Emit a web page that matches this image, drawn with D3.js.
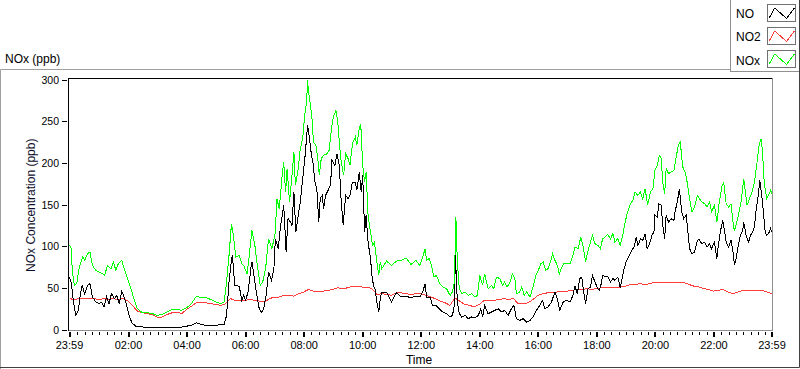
<!DOCTYPE html>
<html>

<head>
    <meta charset="UTF-8">
    <title>NOx (ppb)</title>
    <script src="https://d3js.org/d3.v7.min.js"></script>
    <style>
        body { margin: 0; background: #fff; }
        svg { display: block; font-family: "Liberation Sans", Arial, sans-serif; }
    </style>
</head>

<body>
    <svg id="chart"></svg>
    <script>
        // -------------data (one reading every 10 minutes, from 23:59)-------------
        var timeTicks = ["23:59", "02:00", "04:00", "06:00", "08:00", "10:00", "12:00",
            "14:00", "16:00", "18:00", "20:00", "22:00", "23:59"];
        var yTicks = [0, 50, 100, 150, 200, 250, 300];
        var seriesNames = ["NO", "NO2", "NOx"];
        var seriesColors = ["#000000", "#ff3c3c", "#00ff00"];

        var noValues = [
            62, 26, 40, 48, 54, 37, 32, 28, 33, 40, 36, 44,
            28, 8, 4, 3, 3, 3, 3, 3, 3, 3, 3, 3,
            4, 5, 8, 6, 5, 5, 5, 6, 8, 82, 55, 45,
            37, 65, 58, 24, 32, 66, 80, 115, 148, 130, 160, 140,
            190, 242, 200, 140, 150, 167, 200, 205, 130, 157, 175, 170,
            172, 110, 65, 35, 45, 45, 33, 44, 39, 40, 38, 40,
            38, 50, 38, 29, 24, 20, 15, 85, 18, 17, 13, 14,
            19, 28, 19, 23, 25, 22, 17, 28, 12, 13, 10, 15,
            25, 34, 27, 38, 35, 28, 35, 40, 46, 62, 38, 60,
            53, 55, 64, 57, 60, 52, 80, 92, 108, 109, 115, 103,
            135, 151, 112, 130, 135, 169, 133, 100, 92, 108, 104, 102,
            100, 100, 128, 100, 93, 98, 120, 107, 117, 158, 170, 113,
            118
        ];
        var no2Values = [
            37, 36, 37, 37, 37, 37, 36, 37, 36, 37, 36, 37,
            34, 28, 22, 20, 19, 18, 15, 15, 18, 20, 21, 19,
            24, 28, 32, 33, 32, 31, 30, 29, 31, 37, 35, 35,
            35, 36, 35, 34, 33, 37, 39, 39, 41, 41, 40, 43,
            45, 48, 46, 45, 46, 47, 48, 50, 49, 50, 52, 52,
            51, 51, 49, 42, 43, 42, 41, 44, 44, 43, 42, 43,
            43, 41, 39, 37, 34, 32, 29, 38, 34, 30, 29, 27,
            30, 35, 35, 35, 36, 37, 36, 37, 31, 31, 32, 36,
            41, 43, 44, 45, 45, 46, 46, 47, 48, 48, 49, 48,
            49, 50, 50, 50, 50, 51, 52, 54, 54, 55, 54, 55,
            57, 57, 56, 56, 56, 56, 56, 54, 52, 51, 49, 48,
            46, 47, 48, 45, 43, 45, 47, 47, 47, 47, 47, 45,
            43
        ];
        var noxValues = [
            100, 55, 75, 85, 92, 74, 69, 66, 76, 80, 79, 80,
            60, 40, 25, 20, 20, 19, 17, 18, 21, 24, 24, 23,
            26, 31, 40, 38, 38, 36, 33, 31, 45, 125, 90, 88,
            72, 95, 101, 58, 70, 100, 112, 145, 195, 160, 205, 190,
            240, 296, 228, 190, 208, 212, 250, 250, 195, 207, 215, 230,
            235, 150, 105, 85, 75, 82, 77, 82, 83, 86, 78, 83,
            80, 92, 82, 63, 56, 50, 42, 132, 48, 45, 41, 40,
            60, 64, 50, 50, 61, 55, 54, 64, 44, 44, 40, 50,
            70, 80, 72, 90, 75, 74, 79, 85, 98, 108, 85, 110,
            99, 100, 112, 109, 106, 101, 130, 151, 163, 165, 169, 163,
            188, 209, 165, 188, 193, 220, 192, 160, 146, 158, 152, 150,
            145, 140, 175, 148, 128, 135, 170, 152, 168, 200, 222, 158,
            163
        ];

        // finer readings where the traces are busy, [minutes after 23:59, ppb]
        var noDetail = [
            // after midnight
            [0, 63], [4, 55], [8, 33], [13, 17], [18, 23], [23, 45], [26, 53], [31, 43],
            [37, 53], [42, 55], [47, 39], [54, 33], [61, 31], [66, 33], [71, 27], [76, 39],
            [81, 31], [86, 43], [92, 37], [97, 41], [102, 31], [107, 46], [112, 39], [118, 27],
            [122, 17], [128, 8], [136, 4],
            // morning rise and peak
            [317, 6], [322, 17], [327, 57], [332, 83], [334, 89], [336, 73], [339, 53], [348, 52],
            [353, 35], [357, 41], [361, 35], [366, 45], [373, 79], [374, 81], [378, 65], [382, 49],
            [388, 27], [393, 20], [398, 25], [403, 41], [408, 69], [414, 59], [419, 73],
            [422, 109], [428, 97], [432, 121], [436, 137], [439, 149], [441, 129], [444, 93],
            [448, 133], [453, 129], [456, 125], [460, 165], [464, 117], [469, 137], [473, 153],
            [478, 181], [483, 209], [488, 245], [492, 229], [496, 209], [499, 201], [503, 177],
            [507, 169], [511, 129], [514, 157], [518, 161], [521, 145], [525, 161], [530, 167],
            [535, 173], [538, 203], [544, 197], [548, 211], [553, 197], [557, 153], [561, 125],
            [566, 161], [571, 157], [575, 161], [580, 177], [586, 177], [589, 167], [594, 189],
            [598, 165], [601, 185], [605, 117], [608, 137], [612, 105], [617, 85], [620, 65],
            [623, 53], [626, 49], [630, 33], [634, 21], [637, 37], [640, 45],
            // midday
            [718, 39], [724, 45], [729, 55], [732, 39], [739, 39], [744, 29], [751, 29], [758, 25],
            [765, 21], [773, 19], [780, 15], [785, 17], [789, 29], [791, 89], [795, 33], [799, 19],
            [804, 15], [811, 17], [817, 13], [824, 15], [831, 14], [838, 17], [843, 25], [847, 15],
            [851, 29], [858, 19], [865, 21], [872, 23], [879, 25], [886, 21], [892, 23], [899, 17],
            [906, 25], [911, 29], [916, 13], [923, 11], [930, 13], [937, 9], [944, 11], [950, 15],
            [957, 23], [964, 29], [970, 35], [974, 25], [981, 27], [988, 33], [995, 45], [1000, 37],
            [1005, 23], [1012, 33], [1019, 35], [1026, 33], [1032, 41], [1036, 52], [1041, 43],
            [1046, 61], [1050, 63], [1054, 45], [1058, 31], [1063, 49], [1068, 51], [1072, 65],
            [1077, 57],
            // evening
            [1083, 49], [1086, 47], [1090, 55], [1093, 65], [1098, 63], [1103, 64], [1109, 57],
            [1114, 61], [1118, 59], [1124, 63], [1129, 50], [1132, 59], [1136, 71], [1141, 81],
            [1146, 87], [1151, 93], [1157, 99], [1162, 111], [1165, 101], [1171, 109], [1175, 107],
            [1180, 115], [1184, 97], [1189, 103], [1194, 113], [1198, 117], [1200, 137], [1205, 135],
            [1208, 151], [1213, 149], [1216, 125], [1220, 109], [1223, 137], [1228, 129], [1233, 133],
            [1239, 131], [1241, 141], [1246, 153], [1250, 169], [1255, 141], [1259, 133], [1264, 137],
            [1267, 121], [1271, 97], [1276, 91], [1281, 93], [1287, 107], [1291, 108], [1296, 103],
            [1302, 105], [1307, 99], [1312, 103], [1316, 97], [1322, 105], [1327, 85], [1330, 101],
            [1334, 117], [1339, 131], [1342, 121], [1346, 105], [1351, 99], [1356, 107], [1360, 93],
            [1363, 77], [1367, 87], [1371, 101], [1375, 113], [1380, 119], [1382, 129], [1387, 113],
            [1392, 105], [1396, 113], [1400, 117], [1404, 123], [1407, 141], [1411, 157], [1415, 179],
            [1419, 161], [1423, 137], [1426, 117], [1429, 113], [1433, 115], [1437, 121], [1440, 117]
        ];
        var noxDetail = [
            // after midnight
            [0, 101], [3, 99], [6, 69], [10, 53], [15, 55], [20, 75], [27, 87], [31, 83],
            [37, 91], [42, 93], [47, 77], [54, 71], [61, 69], [68, 67], [72, 65], [78, 77],
            [85, 73], [90, 81], [95, 71], [100, 79], [107, 83], [112, 73], [119, 61], [126, 49],
            [133, 35], [139, 25],
            // morning rise and peak
            [317, 33], [322, 57], [327, 89], [332, 127], [336, 113], [341, 87], [348, 89], [353, 79],
            [357, 77], [364, 67], [367, 81], [374, 119], [380, 101], [384, 81], [391, 53],
            [396, 57], [402, 73], [408, 109], [415, 97], [422, 117], [425, 157], [430, 145],
            [436, 185], [439, 201], [443, 165], [446, 193], [451, 153], [456, 185], [460, 213],
            [463, 173], [469, 193], [473, 217], [478, 229], [482, 257], [486, 273], [488, 299],
            [490, 285], [494, 269], [497, 253], [500, 225], [505, 221], [509, 205], [512, 185],
            [516, 205], [521, 209], [528, 211], [532, 215], [537, 241], [541, 255], [546, 263],
            [550, 249], [553, 225], [557, 201], [562, 185], [566, 211], [571, 205], [575, 197],
            [580, 223], [586, 231], [589, 221], [594, 241], [597, 247], [601, 197], [605, 177],
            [608, 189], [612, 137], [617, 117], [621, 101], [625, 105], [630, 81], [634, 65],
            [637, 81], [640, 73],
            // midday
            [718, 77], [724, 87], [729, 97], [732, 83], [737, 85], [742, 77], [747, 63], [752, 65],
            [759, 55], [766, 51], [773, 49], [780, 41], [785, 45], [789, 57], [792, 135], [795, 81],
            [799, 49], [804, 43], [811, 45], [817, 41], [824, 43], [831, 39], [836, 41], [841, 65],
            [847, 53], [851, 67], [858, 49], [865, 53], [870, 49], [875, 63], [882, 61], [888, 53],
            [892, 57], [897, 51], [903, 57], [908, 67], [913, 61], [916, 43], [923, 45], [927, 51],
            [932, 41], [937, 45], [944, 39], [950, 51], [956, 65], [961, 71], [966, 79], [971, 81],
            [976, 71], [981, 73], [986, 81], [990, 91], [995, 83], [1000, 77], [1004, 66], [1008, 73],
            [1013, 79], [1019, 79], [1026, 79], [1032, 89], [1036, 99], [1043, 97], [1048, 111],
            [1053, 99], [1058, 81], [1063, 95], [1068, 105], [1072, 113], [1077, 103],
            // evening
            [1083, 101], [1088, 97], [1093, 109], [1098, 111], [1103, 114], [1109, 109], [1114, 115],
            [1118, 105], [1124, 109], [1129, 101], [1134, 113], [1139, 129], [1144, 141], [1150, 151],
            [1155, 155], [1159, 165], [1165, 161], [1170, 165], [1175, 157], [1180, 169], [1185, 149],
            [1191, 165], [1196, 169], [1200, 191], [1205, 197], [1209, 209], [1213, 205], [1216, 177],
            [1220, 163], [1223, 193], [1228, 187], [1233, 189], [1239, 191], [1243, 205], [1248, 221],
            [1252, 225], [1257, 195], [1262, 189], [1266, 177], [1271, 157], [1276, 141], [1281, 147],
            [1287, 161], [1291, 157], [1296, 153], [1302, 151], [1307, 147], [1312, 153], [1316, 141],
            [1322, 149], [1327, 129], [1332, 153], [1337, 171], [1341, 177], [1346, 151], [1351, 147],
            [1356, 151], [1360, 129], [1363, 118], [1366, 125], [1371, 137], [1377, 155], [1382, 181],
            [1385, 167], [1389, 149], [1394, 157], [1399, 165], [1404, 177], [1409, 199], [1414, 223],
            [1418, 229], [1421, 209], [1424, 177], [1429, 157], [1433, 161], [1437, 167], [1440, 163]
        ];

        // -------------svg + frames-------------
        var W = 800, H = 369;
        var svg = d3.select("#chart")
            .attr("width", W)
            .attr("height", H);

        svg.append("rect")
            .attr("width", W)
            .attr("height", H)
            .attr("fill", "#fff");

        // outer graph frame
        svg.append("path")
            .attr("d", "M0.5,369 V69.5 H731")
            .attr("fill", "none")
            .attr("stroke", "#a0a0a0");
        svg.append("path")
            .attr("d", "M0,367.5 H799.5 V0")
            .attr("fill", "none")
            .attr("stroke", "#404040");

        svg.append("text")
            .attr("x", 5)
            .attr("y", 63)
            .attr("font-size", 12)
            .attr("fill", "#000")
            .text("NOx (ppb)");

        // -------------scales-------------
        var parseHM = d3.timeParse("%H:%M");
        var tickDates = timeTicks.map(function(s, i) {
            var d = parseHM(s);
            return i === 0 ? d3.timeDay.offset(d, -1) : d;
        });
        var t0 = tickDates[0], t1 = tickDates[tickDates.length - 1];

        var x = d3.scaleTime().domain([t0, t1]).range([69.5, 772]);
        var y = d3.scaleLinear().domain([0, 300]).range([329.5, 79.5]);

        var plotL = 68, plotR = 772, plotT = 78.5, plotB = 330;

        // plot area border
        svg.append("line")
            .attr("x1", plotL).attr("x2", plotR + 0.5)
            .attr("y1", plotT).attr("y2", plotT)
            .attr("stroke", "#000");
        svg.append("line")
            .attr("x1", plotR + 0.5).attr("x2", plotR + 0.5)
            .attr("y1", plotT).attr("y2", plotB)
            .attr("stroke", "#909090");
        svg.append("line")
            .attr("x1", plotL).attr("x2", plotR + 1)
            .attr("y1", plotB + 0.5).attr("y2", plotB + 0.5)
            .attr("stroke", "#909090");
        svg.append("line")
            .attr("x1", plotL + 0.5).attr("x2", plotL + 0.5)
            .attr("y1", plotT).attr("y2", plotB + 1)
            .attr("stroke", "#000");

        // -------------y axis-------------
        var yAxis = svg.append("g");
        yAxis.selectAll("line")
            .data(yTicks)
            .enter().append("line")
            .attr("x1", 62).attr("x2", 67)
            .attr("y1", function(d) { return Math.round(y(d)) + 0.5; })
            .attr("y2", function(d) { return Math.round(y(d)) + 0.5; })
            .attr("stroke", "#000");
        yAxis.selectAll("text")
            .data(yTicks)
            .enter().append("text")
            .attr("x", 59)
            .attr("y", function(d) { return y(d) + 4; })
            .attr("text-anchor", "end")
            .attr("font-size", 10.5)
            .attr("fill", "#000")
            .text(function(d) { return d; });

        svg.append("text")
            .attr("transform", "translate(34.5," + ((plotT + plotB) / 2 + 1) + ") rotate(-90)")
            .attr("text-anchor", "middle")
            .attr("font-size", 12)
            .attr("fill", "#0d0d2a")
            .text("NOx Concentration (ppb)");

        // -------------x axis-------------
        var minorTicks = d3.timeMinute.every(15).range(t0, t1).filter(function(d) {
            return !(d.getMinutes() === 0 && d.getHours() % 2 === 0);
        });
        var xAxis = svg.append("g");
        xAxis.selectAll("line.minor")
            .data(minorTicks)
            .enter().append("line")
            .attr("class", "minor")
            .attr("x1", function(d) { return Math.round(x(d)) + 0.5; })
            .attr("x2", function(d) { return Math.round(x(d)) + 0.5; })
            .attr("y1", 332).attr("y2", 335)
            .attr("stroke", "#000");
        xAxis.selectAll("line.major")
            .data(tickDates)
            .enter().append("line")
            .attr("class", "major")
            .attr("x1", function(d) { return Math.round(x(d)); })
            .attr("x2", function(d) { return Math.round(x(d)); })
            .attr("y1", 332).attr("y2", 337)
            .attr("stroke", "#000")
            .attr("stroke-width", 2);
        xAxis.selectAll("text")
            .data(tickDates)
            .enter().append("text")
            .attr("x", function(d) { return x(d); })
            .attr("y", 349)
            .attr("text-anchor", "middle")
            .attr("font-size", 11)
            .attr("fill", "#000")
            .text(function(d, i) { return timeTicks[i]; });

        svg.append("text")
            .attr("x", 419)
            .attr("y", 364)
            .attr("text-anchor", "middle")
            .attr("font-size", 12)
            .attr("fill", "#000")
            .text("Time");

        // -------------lines-------------
        // 10 minute readings, replaced by the finer ones wherever those exist
        function toPoints(values, detail) {
            var pts = values.map(function(v, i) { return [i * 10, v]; });
            if (detail) {
                pts = pts.filter(function(p) {
                    return !detail.some(function(q) { return Math.abs(q[0] - p[0]) <= 5; });
                }).concat(detail)
                    .sort(function(a, b) { return a[0] - b[0]; });
            }
            return pts.map(function(p) {
                return { t: d3.timeMinute.offset(t0, p[0]), v: p[1] };
            });
        }
        var line = d3.line()
            .x(function(d) { return x(d.t); })
            .y(function(d) { return y(d.v); });

        var series = [toPoints(noValues, noDetail), toPoints(no2Values), toPoints(noxValues, noxDetail)];
        var drawOrder = [1, 0, 2];
        drawOrder.forEach(function(k) {
            svg.append("path")
                .datum(series[k])
                .attr("d", line)
                .attr("fill", "none")
                .attr("stroke", seriesColors[k])
                .attr("stroke-width", 1)
                .attr("shape-rendering", "crispEdges");
        });

        // -------------legend-------------
        var legend = svg.append("g");
        legend.append("rect")
            .attr("x", 730.5).attr("y", -1)
            .attr("width", 70).attr("height", 72.5)
            .attr("fill", "#fff")
            .attr("stroke", "#909090");
        legend.append("line")
            .attr("x1", 799.5).attr("x2", 799.5)
            .attr("y1", 0).attr("y2", 72)
            .attr("stroke", "#404040");

        var zig = [[1.7, 13.3], [7.3, 3.5], [19, 14], [27, 3.5]];
        seriesNames.forEach(function(name, i) {
            var top = 3.5 + i * 23.4;
            legend.append("text")
                .attr("x", 736)
                .attr("y", top + 14.5)
                .attr("font-size", 12)
                .attr("fill", "#000")
                .text(name);
            legend.append("rect")
                .attr("x", 767.5).attr("y", Math.round(top) + 0.5)
                .attr("width", 28).attr("height", 17)
                .attr("fill", "#fff")
                .attr("stroke", "#707070");
            legend.append("path")
                .attr("d", d3.line()(zig.map(function(p) { return [767.5 + p[0], Math.round(top) + 0.5 + p[1]]; })))
                .attr("fill", "none")
                .attr("stroke", seriesColors[i])
                .attr("shape-rendering", "crispEdges");
        });
    </script>
</body>

</html>
